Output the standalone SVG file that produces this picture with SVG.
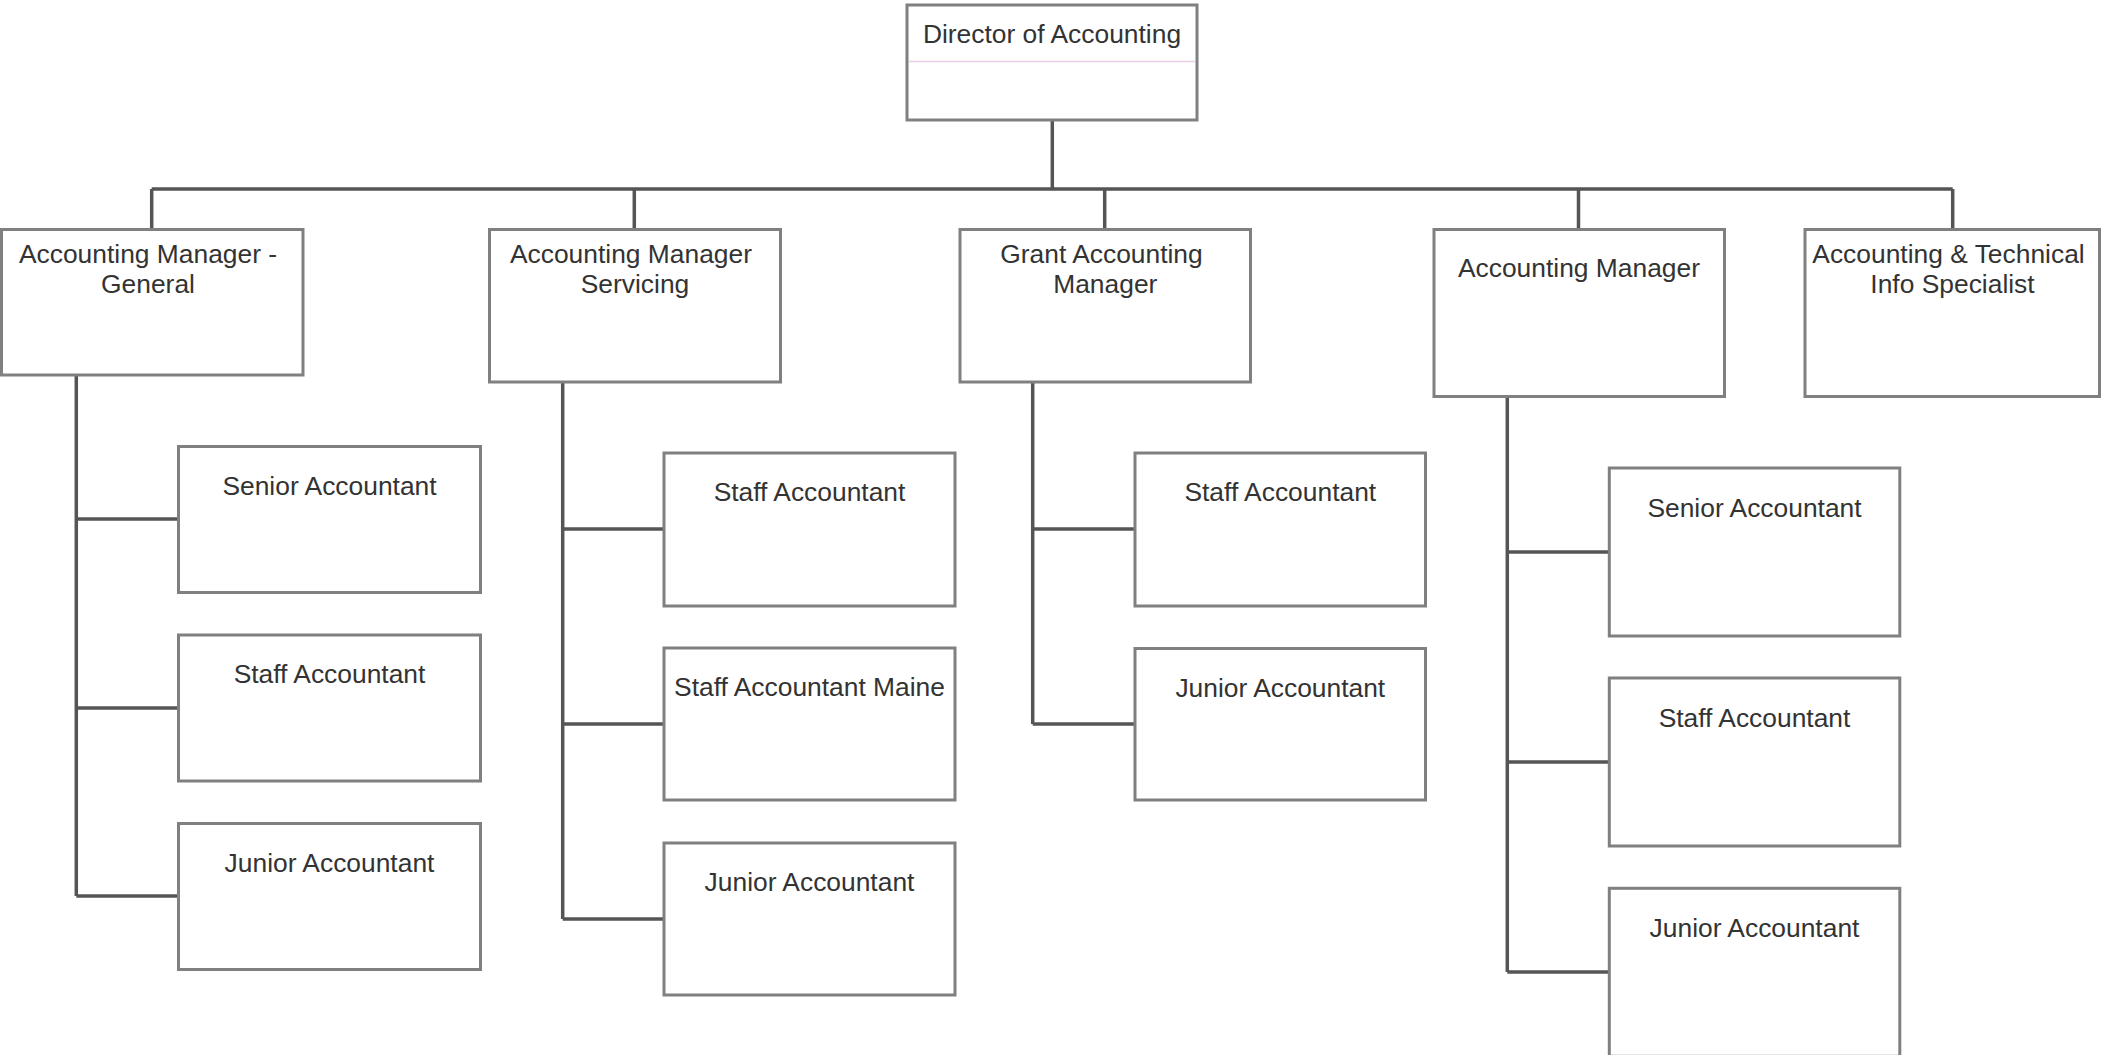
<svg xmlns="http://www.w3.org/2000/svg" width="2101" height="1055" viewBox="0 0 2101 1055">
<style>
.box{fill:#ffffff;stroke:#808080;stroke-width:3}
.lbl{font-family:"Liberation Sans",Arial,sans-serif;font-size:26.4px;fill:#333333;text-anchor:middle}
.con{fill:none;stroke:#555555;stroke-width:3.5;stroke-linecap:butt}
</style>
<rect width="2101" height="1055" fill="#ffffff"/>
<g id="connectors">
<path class="con" d="M1052.3,120 V189"/>
<path class="con" d="M151.7,189 H1952.7"/>
<path class="con" d="M151.7,189 V229 M634.3,189 V229 M1104.7,189 V229 M1578.5,189 V229 M1952.7,189 V229"/>
<path class="con" d="M76.3,375 V896 M76.3,519 H178.5 M76.3,708 H178.5 M76.3,896 H178.5"/>
<path class="con" d="M562.7,382 V919 M562.7,529 H664 M562.7,724 H664 M562.7,919 H664"/>
<path class="con" d="M1032.7,382 V724 M1032.7,529 H1135 M1032.7,724 H1135"/>
<path class="con" d="M1507.3,397 V972 M1507.3,552 H1609.3 M1507.3,762 H1609.3 M1507.3,972 H1609.3"/>
</g>
<g id="director">
<rect class="box" x="907" y="5" width="290" height="115"/>
<line x1="909" y1="61.5" x2="1195" y2="61.5" stroke="#e6cfe6" stroke-width="1.5"/>
<text class="lbl" x="1052" y="43">Director of Accounting</text>
</g>
<g id="mgr-general">
<rect class="box" x="1.5" y="229.5" width="301.5" height="145.5"/>
<text class="lbl" x="148" y="263">Accounting Manager -</text>
<text class="lbl" x="148" y="293">General</text>
</g>
<g id="mgr-servicing">
<rect class="box" x="489.5" y="229.5" width="291" height="152.5"/>
<text class="lbl" x="631" y="263">Accounting Manager</text>
<text class="lbl" x="635" y="293">Servicing</text>
</g>
<g id="grant-mgr">
<rect class="box" x="960" y="229.5" width="290.5" height="152.5"/>
<text class="lbl" x="1101.5" y="263">Grant Accounting</text>
<text class="lbl" x="1105.3" y="293">Manager</text>
</g>
<g id="acct-mgr">
<rect class="box" x="1434" y="229.5" width="290.5" height="167"/>
<text class="lbl" x="1579" y="277">Accounting Manager</text>
</g>
<g id="tech-specialist">
<rect class="box" x="1805" y="229.5" width="294.5" height="167"/>
<text class="lbl" x="1948.5" y="263">Accounting &amp; Technical</text>
<text class="lbl" x="1952.5" y="293">Info Specialist</text>
</g>
<g id="g-senior">
<rect class="box" x="178.5" y="446.5" width="302" height="146"/>
<text class="lbl" x="329.5" y="494.5">Senior Accountant</text>
</g>
<g id="g-staff">
<rect class="box" x="178.5" y="635" width="302" height="146"/>
<text class="lbl" x="329.5" y="683">Staff Accountant</text>
</g>
<g id="g-junior">
<rect class="box" x="178.5" y="823.5" width="302" height="146"/>
<text class="lbl" x="329.5" y="871.5">Junior Accountant</text>
</g>
<g id="s-staff">
<rect class="box" x="664" y="453" width="291" height="153"/>
<text class="lbl" x="809.5" y="501">Staff Accountant</text>
</g>
<g id="s-staff-maine">
<rect class="box" x="664" y="648" width="291" height="152"/>
<text class="lbl" x="809.5" y="696">Staff Accountant Maine</text>
</g>
<g id="s-junior">
<rect class="box" x="664" y="843" width="291" height="152"/>
<text class="lbl" x="809.5" y="891">Junior Accountant</text>
</g>
<g id="gr-staff">
<rect class="box" x="1135" y="453" width="290.5" height="153"/>
<text class="lbl" x="1280.3" y="501">Staff Accountant</text>
</g>
<g id="gr-junior">
<rect class="box" x="1135" y="648.5" width="290.5" height="151.5"/>
<text class="lbl" x="1280.3" y="696.5">Junior Accountant</text>
</g>
<g id="a-senior">
<rect class="box" x="1609.3" y="468" width="290.5" height="168"/>
<text class="lbl" x="1754.5" y="516.5">Senior Accountant</text>
</g>
<g id="a-staff">
<rect class="box" x="1609.3" y="678" width="290.5" height="168"/>
<text class="lbl" x="1754.5" y="726.5">Staff Accountant</text>
</g>
<g id="a-junior">
<rect class="box" x="1609.3" y="888.3" width="290.5" height="168"/>
<text class="lbl" x="1754.5" y="937">Junior Accountant</text>
</g>
</svg>
